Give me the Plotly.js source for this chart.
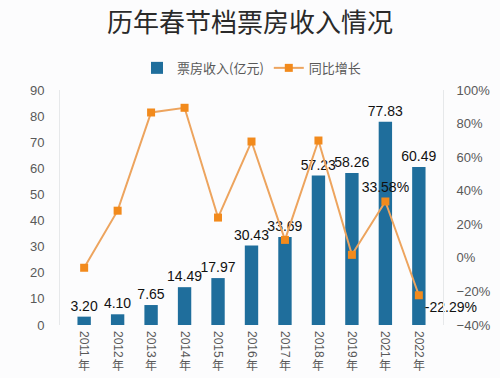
<!DOCTYPE html>
<html>
<head>
<meta charset="utf-8">
<script src="https://cdn.plot.ly/plotly-3.0.1.min.js"></script>
<style>html,body{margin:0;padding:0;background:#fcfcfd;}#chart{width:500px;height:378px;}</style>
</head>
<body>
<div id="chart"></div>
<script>
var years = ["2011", "2012", "2013", "2014", "2015", "2016", "2017", "2018", "2019", "2021", "2022"];
var yearSuffix = "年";
var boxOffice = [3.20, 4.10, 7.65, 14.49, 17.97, 30.43, 33.69, 57.23, 58.26, 77.83, 60.49];
var yoyGrowth = [-5.9, 28.1, 86.6, 89.4, 24.0, 69.3, 10.7, 69.9, 1.8, 33.58, -22.29];
var growthLabels = ["", "", "", "", "", "", "", "", "", "33.58%", "-22.29%"];

var categories = years.map(function(y){ return y + yearSuffix; });

var font = "'Liberation Sans', 'Noto Sans CJK SC', sans-serif";
var cjk = "'Noto Sans CJK SC', sans-serif";

var bars = {
  type: "bar", x: categories, y: boxOffice, name: "票房收入(亿元)",
  marker: {color: "#1f6e9c"},
  text: boxOffice.map(function(v){return v.toFixed(2);}),
  textposition: "outside", cliponaxis: false, constraintext: "none",
  textfont: {family: font, size: 14, color: "#111"}
};
var line = {
  type: "scatter", mode: "lines+markers+text", x: categories, y: yoyGrowth, yaxis: "y2",
  name: "同比增长",
  line: {color: "#eda45e", width: 2},
  marker: {symbol: "square", size: 8, color: "#f28a1c"},
  text: growthLabels,
  textposition: ["top center","top center","top center","top center","top center","top center","top center","top center","top center","top center","bottom right"],
  textfont: {family: font, size: 14, color: "#111"},
  cliponaxis: false
};

var annotations = categories.map(function(c){
  return {x: c, xref: "x", y: -0.166, yref: "paper", text: yearSuffix, showarrow: false,
    font: {family: cjk, size: 12, color: "#595959"}, yanchor: "middle"};
});

var layout = {
  width: 500, height: 378,
  paper_bgcolor: "#fcfcfd", plot_bgcolor: "#fcfcfd",
  margin: {l: 60, r: 57, t: 90, b: 53},
  title: {text: "历年春节档票房收入情况", font: {family: cjk, size: 26, color: "#2a2a2a"}, x: 0.5, xanchor: "center", y: 0.94, yanchor: "middle"},
  showlegend: true,
  legend: {orientation: "h", x: 0.5, xanchor: "center", y: 1.094, yanchor: "middle",
    font: {family: cjk, size: 13, color: "#595959"}, traceorder: "normal"},
  bargap: 0.6,
  xaxis: {type: "category", categoryorder: "array", categoryarray: categories,
    tickmode: "array", tickvals: categories, ticktext: years,
    tickangle: 90, tickfont: {family: font, size: 12, color: "#595959"},
    showline: false, showgrid: false, ticks: "", ticklabelstandoff: 5},
  yaxis: {range: [0, 90], dtick: 10, showgrid: false, zeroline: false,
    showline: true, linecolor: "#e6e8ea", linewidth: 1,
    tickfont: {family: font, size: 13, color: "#595959"}, ticks: "", ticklabelstandoff: 12},
  yaxis2: {range: [-40, 100], dtick: 20, overlaying: "y", side: "right", showgrid: false, zeroline: false,
    showline: true, linecolor: "#e6e8ea", linewidth: 1, ticksuffix: "%",
    tickfont: {family: font, size: 13, color: "#595959"}, ticks: "", ticklabelstandoff: 10},
  annotations: annotations
};

Plotly.newPlot("chart", [bars, line], layout, {displayModeBar: false, staticPlot: true});
</script>
</body>
</html>
